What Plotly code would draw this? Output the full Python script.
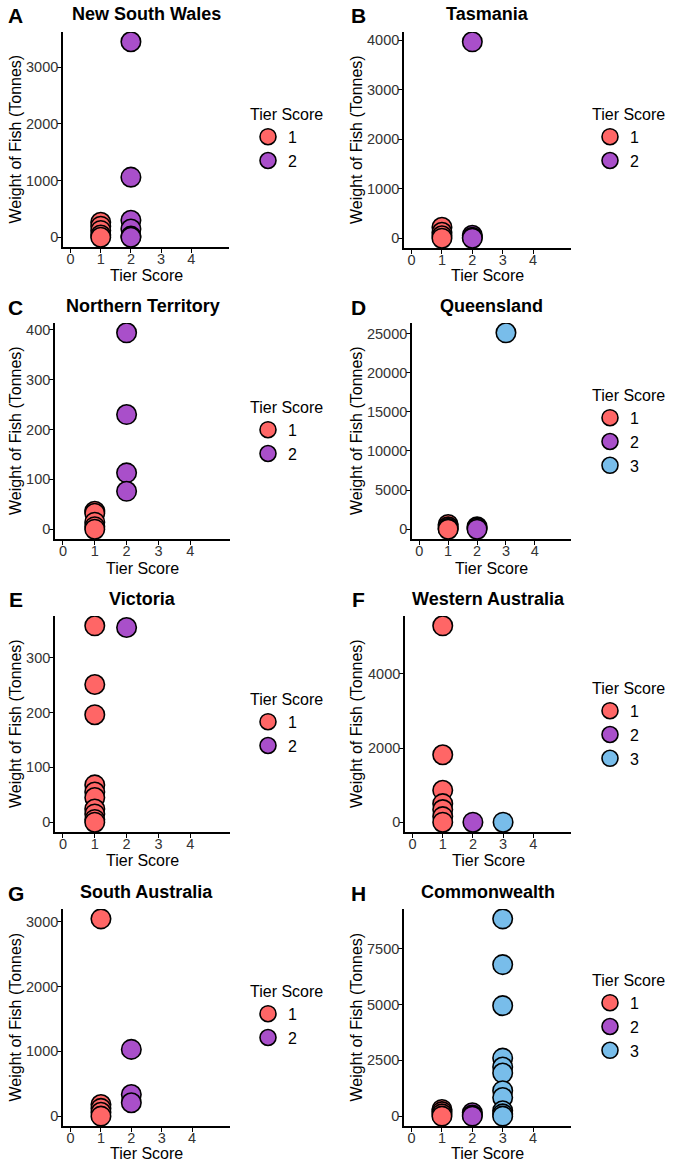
import plotly.graph_objects as go

W, H = 685, 1171

# ---------------- data (Weight of Fish, tonnes) ----------------
panel_letters = ["A", "B", "C", "D", "E", "F", "G", "H"]
panel_titles = ["New South Wales", "Tasmania", "Northern Territory", "Queensland",
                "Victoria", "Western Australia", "South Australia", "Commonwealth"]
tier_names = ["1", "2", "3"]
tier_colors = ["#FF6666", "#A94FCA", "#78BDEA"]
x_ticks = [0, 1, 2, 3, 4]
x_title = "Tier Score"
y_title = "Weight of Fish (Tonnes)"
legend_title = "Tier Score"

nsw_t1 = [265, 195, 120, 40, 0]
nsw_t2 = [3450, 1060, 300, 145, 20, 0]
tas_t1 = [220, 120, 50, 0]
tas_t2 = [3970, 60, 20, 0]
nt_t1 = [36, 32, 14, 5, 0]
nt_t2 = [394, 230, 113, 76]
qld_t1 = [600, 300, 100, 0]
qld_t2 = [300, 150, 0]
qld_t3 = [25100]
vic_t1 = [358, 251, 196, 68, 55, 45, 24, 15, 5, 0]
vic_t2 = [355]
wa_t1 = [5300, 1820, 860, 500, 340, 150, 0]
wa_t2 = [0]
wa_t3 = [0]
sa_t1 = [3045, 180, 120, 60, 0]
sa_t2 = [1030, 334, 206]
cw_t1 = [300, 200, 100, 0]
cw_t2 = [150, 50, 0]
cw_t3 = [8840, 6790, 4950, 2600, 2200, 1930, 1140, 835, 240, 100, 0]

panel_data = [
    [nsw_t1, nsw_t2],
    [tas_t1, tas_t2],
    [nt_t1, nt_t2],
    [qld_t1, qld_t2, qld_t3],
    [vic_t1, vic_t2],
    [wa_t1, wa_t2, wa_t3],
    [sa_t1, sa_t2],
    [cw_t1, cw_t2, cw_t3],
]
y_dticks = [1000, 1000, 100, 5000, 100, 2000, 1000, 2500]

# ---------------- layout geometry (pixels) ----------------
# (x0, x1, ytop, ybottom) of each plotting panel
panel_px = [
    (63, 229, 32, 247),
    (404, 571, 32, 248),
    (55, 230, 323, 539),
    (412, 571, 323, 539),
    (55, 230, 616, 832),
    (405, 571, 616, 832),
    (63, 230, 909, 1126),
    (404, 571, 909, 1126),
]
row_title_y = [14, 306, 599, 892]
row_letter_y = [16, 307, 600, 893]
row_xtitle_y = [276, 568, 860, 1153]
ytitle_x = [15, 356]
legend_px = [(248, 99), (590, 99), (248, 392), (590, 380),
             (248, 684), (590, 673), (248, 976), (590, 965)]

FONT = "Liberation Sans, Arial, sans-serif"

fig = go.Figure()
layout = dict(
    width=W, height=H, margin=dict(l=0, r=0, t=0, b=0),
    paper_bgcolor="white", plot_bgcolor="white",
    font=dict(family=FONT, color="black"),
    annotations=[],
)

for i in range(8):
    ax = "" if i == 0 else str(i + 1)
    leg = "legend" if i == 0 else f"legend{i + 1}"
    series = panel_data[i]
    allv = [v for s in series for v in s]
    lo, hi = min(allv), max(allv)
    pad = 0.05 * (hi - lo)
    for t, vals in enumerate(series):
        fig.add_trace(go.Scatter(
            x=[t + 1] * len(vals), y=vals, mode="markers",
            name=tier_names[t],
            marker=dict(size=19.5, color=tier_colors[t],
                        line=dict(color="black", width=1.6)),
            xaxis="x" + ax, yaxis="y" + ax, legend=leg,
            showlegend=True, hoverinfo="x+y",
        ))
    x0, x1, yt, yb = panel_px[i]
    layout["xaxis" + ax] = dict(
        domain=[x0 / W, x1 / W], anchor="y" + ax,
        range=[-0.25, 5.25], tickvals=x_ticks,
        showline=True, linecolor="black", linewidth=1.6,
        ticks="outside", ticklen=4, tickwidth=1.2, tickcolor="black",
        showgrid=False, zeroline=False, ticklabelstandoff=-6,
        tickfont=dict(size=14.5, color="#333333", family=FONT),
    )
    layout["yaxis" + ax] = dict(
        domain=[1 - yb / H, 1 - yt / H], anchor="x" + ax,
        range=[lo - pad, hi + pad], dtick=y_dticks[i], tick0=0, tickformat="d",
        showline=True, linecolor="black", linewidth=1.6,
        ticks="outside", ticklen=4, tickwidth=1.2, tickcolor="black",
        showgrid=False, zeroline=False, ticklabelstandoff=-4,
        tickfont=dict(size=14.5, color="#333333", family=FONT),
    )
    lx, ly = legend_px[i]
    layout[leg] = dict(
        x=lx / W, y=1 - ly / H, xanchor="left", yanchor="top",
        xref="paper", yref="paper",
        title=dict(text=legend_title, font=dict(size=16, family=FONT, color="black")),
        font=dict(size=16, family=FONT, color="black"),
        bgcolor="rgba(0,0,0,0)", itemsizing="trace", tracegroupgap=0,
    )
    row = i // 2
    col = i % 2
    ann = layout["annotations"]
    ann.append(dict(
        text=f"<b>{panel_titles[i]}</b>", x=(x0 + x1) / 2 / W, y=1 - row_title_y[row] / H,
        xref="paper", yref="paper", xanchor="center", yanchor="middle",
        showarrow=False, font=dict(size=18, family=FONT, color="black"),
    ))
    lxp = 16 if col == 0 else 358
    ann.append(dict(
        text=f"<b>{panel_letters[i]}</b>", x=lxp / W, y=1 - row_letter_y[row] / H,
        xref="paper", yref="paper", xanchor="center", yanchor="middle",
        showarrow=False, font=dict(size=21, family=FONT, color="black"),
    ))
    ann.append(dict(
        text=x_title, x=(x0 + x1) / 2 / W, y=1 - row_xtitle_y[row] / H,
        xref="paper", yref="paper", xanchor="center", yanchor="middle",
        showarrow=False, font=dict(size=16, family=FONT, color="black"),
    ))
    ann.append(dict(
        text=y_title, x=ytitle_x[col] / W, y=1 - (yt + yb) / 2 / H,
        xref="paper", yref="paper", xanchor="center", yanchor="middle",
        textangle=-90, showarrow=False, font=dict(size=16, family=FONT, color="black"),
    ))

fig.update_layout(**layout)
fig.write_html("out.html", config={"displayModeBar": False})

# remove the browser's default page margin so the figure sits at (0, 0)
with open("out.html", "r", encoding="utf-8") as f:
    html = f.read()
html = html.replace("<head>", "<head><style>html,body{margin:0;padding:0;}</style>", 1)
with open("out.html", "w", encoding="utf-8") as f:
    f.write(html)
